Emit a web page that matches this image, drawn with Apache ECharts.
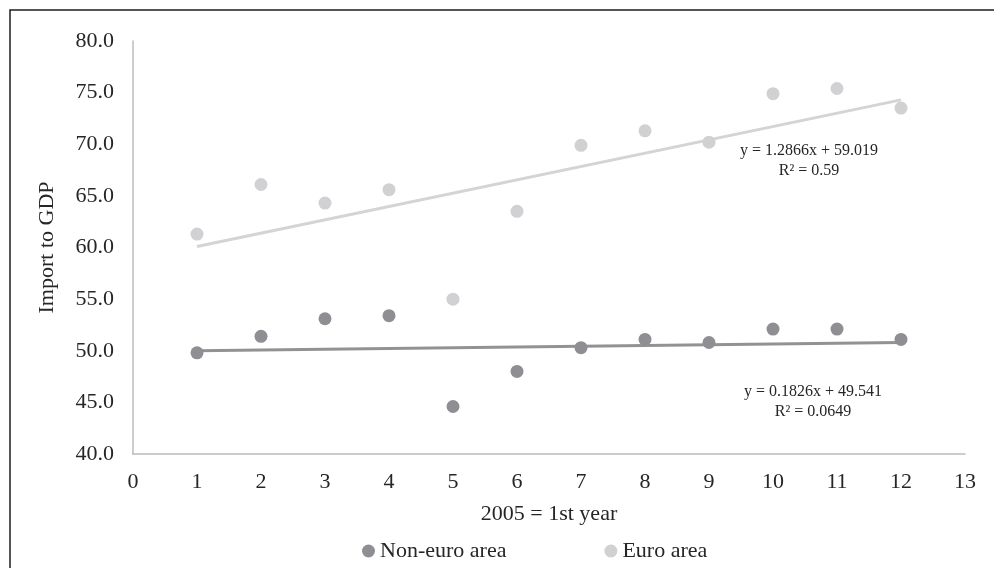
<!DOCTYPE html>
<html>
<head>
<meta charset="utf-8">
<script src="https://cdn.jsdelivr.net/npm/echarts@6/dist/echarts.min.js"></script>
<style>
  html, body { margin: 0; padding: 0; background: #fff; }
  #chart { width: 994px; height: 568px; }
</style>
</head>
<body>
<div id="chart"></div>
<script>
// years since 2005 (1 = 2005)
const years = [1, 2, 3, 4, 5, 6, 7, 8, 9, 10, 11, 12];
const nonEuro = [49.8, 51.4, 53.1, 53.4, 44.6, 48.0, 50.3, 51.1, 50.8, 52.1, 52.1, 51.1];
const euro = [61.3, 66.1, 64.3, 65.6, 55.0, 63.5, 69.9, 71.3, 70.2, 74.9, 75.4, 73.5];

// trend line ends as drawn in the picture
const trendX = [1, 12];
const nonEuroTrend = [50.0, 50.8];
const euroTrend = [60.1, 74.3];

const euroEq = ['y = 1.2866x + 59.019', 'R² = 0.59'];
const nonEuroEq = ['y = 0.1826x + 49.541', 'R² = 0.0649'];

const FONT = '"Liberation Serif", "DejaVu Serif", serif';
const TXT = '#262626';
const colors = ['#8f8f93', '#d1d1d4'];

const pairs = (xs, ys) => xs.map((x, i) => [x, ys[i]]);

var myChart = echarts.init(document.getElementById('chart'));
var option = {
  animation: false,
  textStyle: { fontFamily: FONT, color: TXT },
  grid: { left: 133, right: 29, top: 41, bottom: 114 },
  legend: {
    data: ['Non-euro area', 'Euro area'],
    top: 540,
    left: 362,
    padding: 0,
    icon: 'circle',
    itemWidth: 13,
    itemHeight: 13,
    itemGap: 98,
    textStyle: { fontFamily: FONT, fontSize: 22, color: TXT }
  },
  xAxis: {
    type: 'value',
    min: 0,
    max: 13,
    interval: 1,
    name: '2005 = 1st year',
    nameLocation: 'middle',
    nameGap: 60,
    nameTextStyle: { fontFamily: FONT, fontSize: 22, color: TXT, verticalAlign: 'middle' },
    axisLine: { show: true, lineStyle: { color: '#bcbcbc', width: 1.5 } },
    axisTick: { show: false },
    splitLine: { show: false },
    axisLabel: { margin: 17, fontFamily: FONT, fontSize: 22, color: TXT }
  },
  yAxis: {
    type: 'value',
    min: 40,
    max: 80,
    interval: 5,
    name: 'Import to GDP',
    nameLocation: 'middle',
    nameGap: 75,
    nameTextStyle: { fontFamily: FONT, fontSize: 22, color: TXT },
    axisLine: { show: true, lineStyle: { color: '#bcbcbc', width: 1.5 } },
    axisTick: { show: false },
    splitLine: { show: false },
    axisLabel: {
      margin: 19,
      fontFamily: FONT,
      fontSize: 22,
      color: TXT,
      formatter: v => v.toFixed(1)
    }
  },
  series: [
    {
      name: 'Non-euro trend',
      type: 'line',
      symbol: 'none',
      silent: true,
      z: 1,
      lineStyle: { color: '#929292', width: 3 },
      data: pairs(trendX, nonEuroTrend)
    },
    {
      name: 'Euro trend',
      type: 'line',
      symbol: 'none',
      silent: true,
      z: 1,
      lineStyle: { color: '#d4d4d4', width: 3 },
      data: pairs(trendX, euroTrend)
    },
    {
      name: 'Non-euro area',
      type: 'scatter',
      symbolSize: 13,
      z: 3,
      itemStyle: { color: colors[0], opacity: 1 },
      data: pairs(years, nonEuro)
    },
    {
      name: 'Euro area',
      type: 'scatter',
      symbolSize: 13,
      z: 3,
      itemStyle: { color: colors[1], opacity: 1 },
      data: pairs(years, euro)
    }
  ],
  graphic: [
    {
      type: 'rect',
      silent: true,
      shape: { x: 10, y: 10, width: 2000, height: 2000 },
      style: { fill: 'none', stroke: '#1e1e1e', lineWidth: 1.5 }
    },
    {
      type: 'text',
      x: 809, y: 161,
      style: {
        text: euroEq.join('\n'),
        font: '16px ' + FONT,
        fill: TXT,
        align: 'center',
        verticalAlign: 'middle',
        lineHeight: 20
      }
    },
    {
      type: 'text',
      x: 813, y: 402,
      style: {
        text: nonEuroEq.join('\n'),
        font: '16px ' + FONT,
        fill: TXT,
        align: 'center',
        verticalAlign: 'middle',
        lineHeight: 20
      }
    }
  ]
};
option && myChart.setOption(option);
</script>
</body>
</html>
